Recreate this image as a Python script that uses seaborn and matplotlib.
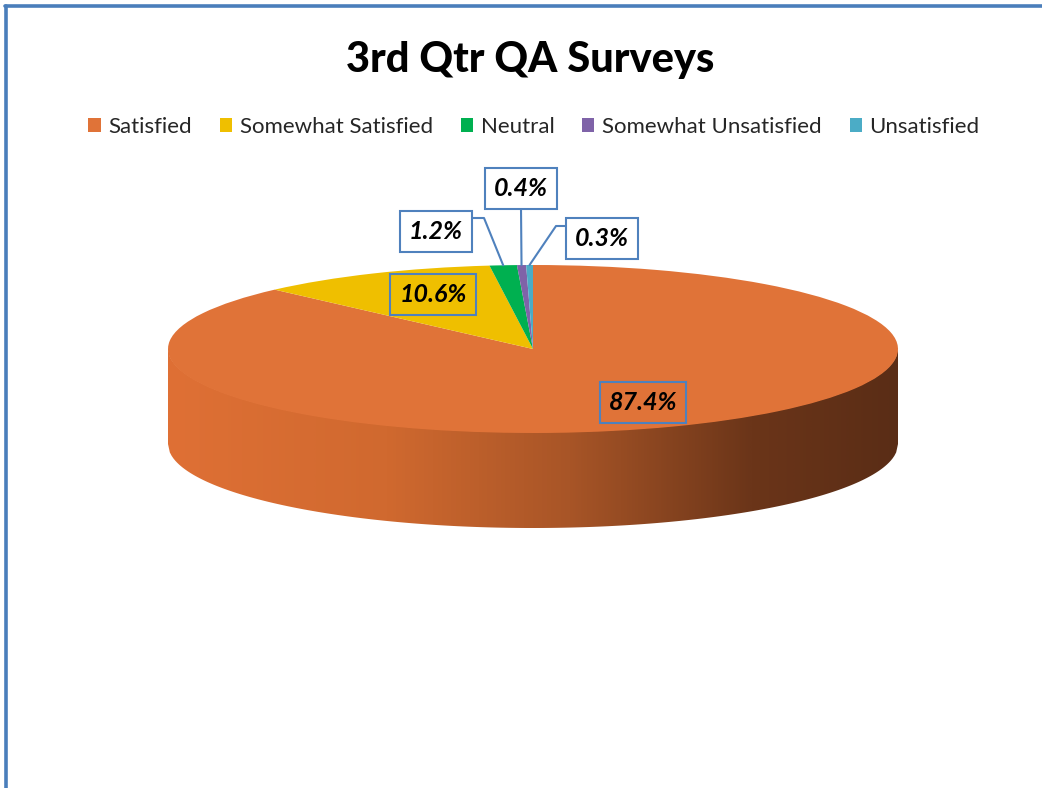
import numpy as np
import matplotlib
matplotlib.use("Agg")
import matplotlib.pyplot as plt
import seaborn as sns
from matplotlib.patches import Patch, Polygon
from matplotlib.lines import Line2D
from matplotlib.colors import LinearSegmentedColormap

# ---- data ----
categories = ["Satisfied", "Somewhat Satisfied", "Neutral",
              "Somewhat Unsatisfied", "Unsatisfied"]
values = [87.4, 10.6, 1.2, 0.4, 0.3]
labels = ["87.4%", "10.6%", "1.2%", "0.4%", "0.3%"]
title = "3rd Qtr QA Surveys"

# ---- styles ----
colors = ["#E07338", "#EFBF00", "#00B050", "#7F63A8", "#4BACC6"]
edge_blue = "#4F81BD"

sns.set_theme(style="white")
plt.rcParams["font.family"] = ["Lato", "DejaVu Sans"]

W, H = 1042, 788
fig = plt.figure(figsize=(W / 100, H / 100), dpi=100)
fig.patch.set_facecolor("white")

# pie geometry in reference pixels
cx, cy, a, b, depth = 533, 349, 365, 84, 95
d = depth / b
left, right = cx - a, cx + a
top, bottom = cy - b, cy + b + depth
ax = fig.add_axes([left / W, 1 - bottom / H, (right - left) / W, (bottom - top) / H])

wedges, _ = ax.pie(values, colors=colors, startangle=90, counterclock=False,
                   radius=1, center=(0, 0), wedgeprops=dict(linewidth=0))
for w in wedges:
    w.set_zorder(3)

# side of the 3-D disc (front half), shaded gradient
xs = np.linspace(-1, 1, 400)
ytop = -np.sqrt(np.clip(1 - xs ** 2, 0, None))
poly = np.vstack([np.column_stack([xs, ytop + 0.01]),
                  np.column_stack([xs[::-1], ytop[::-1] - d])])
clip = Polygon(poly, closed=True, facecolor="none", edgecolor="none")
ax.add_patch(clip)
cmap = LinearSegmentedColormap.from_list(
    "side", [(0, "#DF7035"), (0.3, "#D0692F"), (0.55, "#A85527"),
             (0.8, "#6B3519"), (1, "#5A2D16")])
grad = np.linspace(0, 1, 512)[None, :]
im = ax.imshow(grad, extent=(-1, 1, -1 - d, 0.02), cmap=cmap, aspect="auto",
               zorder=1, interpolation="bilinear")
im.set_clip_path(clip)

ax.set_aspect("auto")
ax.set_xlim(-1, 1)
ax.set_ylim(-1 - d, 1)
ax.axis("off")

# overlay axes in pixel coordinates for text and decorations
ov = fig.add_axes([0, 0, 1, 1], zorder=10)
ov.set_xlim(0, W)
ov.set_ylim(H, 0)
ov.axis("off")
ov.patch.set_alpha(0)

# border (top and left)
ov.add_line(Line2D([5, W], [6, 6], color="#4A7EBB", lw=2.6))
ov.add_line(Line2D([6, 6], [6, H], color="#4A7EBB", lw=2.6))

# title
ov.text(530, 60, title, ha="center", va="center", fontsize=30,
        fontweight="black", color="black")

# legend
handles = [Patch(facecolor=c, edgecolor="none") for c in colors]
fig.legend(handles, categories, loc="center", ncol=5, frameon=False,
           bbox_to_anchor=(534 / W, 1 - 127 / H), fontsize=16,
           handlelength=0.55, handleheight=0.55, handletextpad=0.35,
           columnspacing=1.25)

# data labels
label_pos = [(643, 402), (433, 294), (436, 231), (521, 188), (602, 238)]
label_face = ["none", "none", "white", "white", "white"]
for txt, (px, py), fc in zip(labels, label_pos, label_face):
    ov.text(px, py, txt, ha="center", va="center", fontsize=18,
            fontweight="bold", fontstyle="italic", color="black",
            bbox=dict(boxstyle="square,pad=0.36", facecolor=fc,
                      edgecolor=edge_blue, linewidth=1.5))

# leader lines for the thin slices
total = sum(values)
cum = np.cumsum([0] + values[:-1])
inv = ov.transData.inverted()
starts = {2: [(470, 218), (484, 218)], 3: [(521, 208)], 4: [(568, 226), (556, 226)]}
for i, pts in starts.items():
    phi = 360 * (cum[i] + values[i] / 2) / total
    th = np.deg2rad(90 - phi)
    dx, dy = ax.transData.transform((np.cos(th), np.sin(th)))
    ex, ey = inv.transform((dx, dy))
    xs_l = [p[0] for p in pts] + [ex]
    ys_l = [p[1] for p in pts] + [ey]
    ov.add_line(Line2D(xs_l, ys_l, color=edge_blue, lw=1.5))

fig.savefig("out.png", dpi=100, facecolor="white")
